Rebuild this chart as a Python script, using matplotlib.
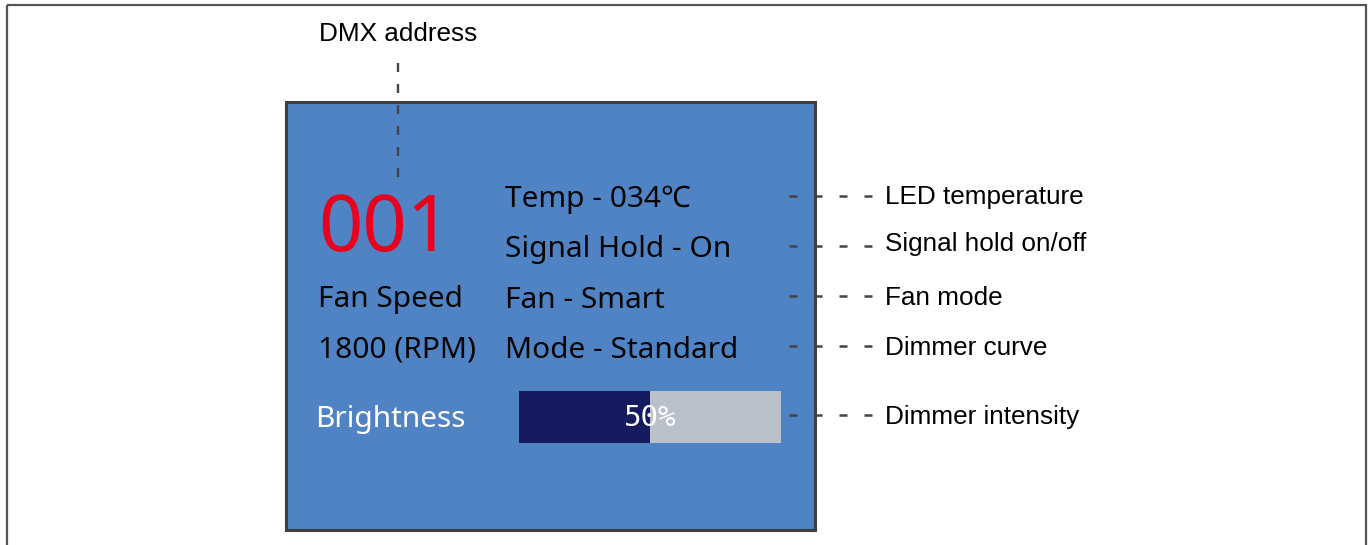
import matplotlib.pyplot as plt
from matplotlib.patches import Rectangle
from matplotlib.lines import Line2D

# Display content
dmx_address = "001"
left_labels = ["Fan Speed", "1800 (RPM)"]
status_labels = ["Temp - 034\u2103", "Signal Hold - On", "Fan - Smart", "Mode - Standard"]
callout_labels = ["LED temperature", "Signal hold on/off", "Fan mode", "Dimmer curve", "Dimmer intensity"]
brightness = 50  # percent

W, H = 1371, 545
fig = plt.figure(figsize=(W / 100, H / 100), dpi=100)
ax = fig.add_axes([0, 0, 1, 1])
ax.set_xlim(0, W)
ax.set_ylim(H, 0)
ax.axis('off')

# Outer frame (bottom edge runs off the image)
ax.add_patch(Rectangle((7, 5), 1359, 600, fill=False, edgecolor='#555555', lw=1.6, clip_on=True))

# Display panel
ax.add_patch(Rectangle((285.5, 101.5), 529, 428, facecolor='#4F83C4', edgecolor='#3f3f3f', lw=2.2))

panel_font = ['Noto Sans', 'DejaVu Sans']
label_font = ['Liberation Sans', 'DejaVu Sans']

# DMX address
ax.text(318, 231, dmx_address, color='#E8001C', fontsize=56, family=panel_font,
        fontweight='medium', ha='left', va='center')
ax.text(398, 34, "DMX address", fontsize=18.8, family=label_font, ha='center', va='center')
ax.add_line(Line2D([398, 398], [63, 178], color='#444444', lw=1.7,
                   dashes=(3.8, 5.1), dash_capstyle='butt'))

# Status rows
row_y = [196, 246, 296, 346]
for y, s in zip(row_y, status_labels):
    ax.text(505, y + 4, s, fontsize=21.5, family=panel_font, ha='left', va='center', color='#050505')
for y, s in zip(row_y[2:], left_labels):
    ax.text(318, y + 4, s, fontsize=21.5, family=panel_font, ha='left', va='center', color='#050505')

# Brightness bar
bar_x0, bar_x1, bar_y, bar_h = 519, 781, 391, 52
fill_x = bar_x0 + (bar_x1 - bar_x0) * brightness / 100
ax.add_patch(Rectangle((bar_x0, bar_y), bar_x1 - bar_x0, bar_h, facecolor='#BBC1CB', lw=0))
ax.add_patch(Rectangle((bar_x0, bar_y), fill_x - bar_x0, bar_h, facecolor='#161A5E', lw=0))
ax.text(fill_x, bar_y + bar_h / 2 + 1, f"{brightness}%", color='white', fontsize=21,
        family=['DejaVu Sans Mono'], ha='center', va='center')
ax.text(315, 420, "Brightness", color='white', fontsize=21.5, family=panel_font,
        ha='left', va='center')

# Callouts
callout_y = [196, 246, 296, 346, 415]
text_y = [195, 242, 296, 346, 415]
for ly, ty, s in zip(callout_y, text_y, callout_labels):
    ax.add_line(Line2D([789, 872], [ly, ly], color='#444444', lw=1.8,
                       dashes=(3.2, 6.8), dash_capstyle='butt'))
    ax.text(885, ty + 2, s, fontsize=18.8, family=label_font, ha='left', va='center')

fig.savefig('out.png', dpi=100)
